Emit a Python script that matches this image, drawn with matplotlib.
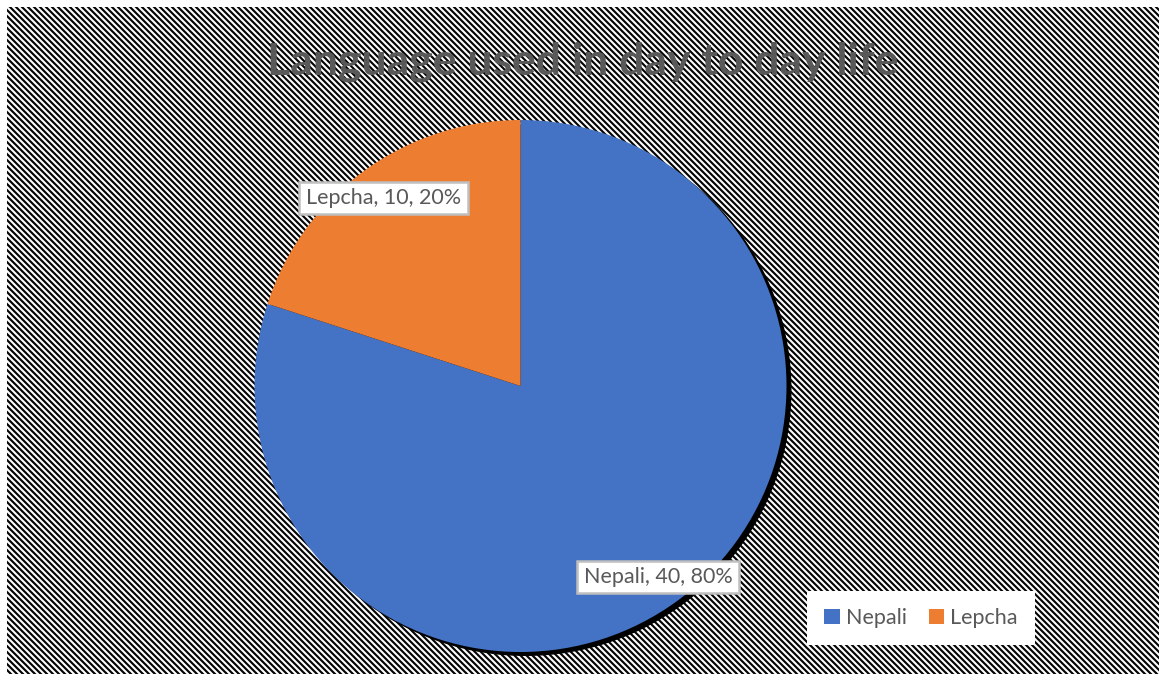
import numpy as np
import matplotlib
matplotlib.use("Agg")
import matplotlib.pyplot as plt

# Survey answers
languages = ["Nepali", "Lepcha"]
counts = [40, 10]
colors = ["#4472C4", "#ED7D31"]
title = "Language used in day to day life"

W, H = 1163, 678
plt.rcParams["font.family"] = ["Lato", "DejaVu Sans"]

fig = plt.figure(figsize=(W / 100, H / 100), dpi=100)
ax = fig.add_axes([0, 0, 1, 1])

# Wide downward-diagonal pattern fill for the chart area
rows, cols = np.mgrid[0:H, 0:W]
phase = 2 * np.pi * ((cols - rows) % 6) / 6.0
k = 1.6
v = 0.5 + 0.5 * np.tanh(k * np.cos(phase)) / np.tanh(k)
inside = (cols >= 7) & (cols <= 1158) & (rows >= 7) & (rows <= 673)
bg = np.where(inside, v, 1.0)
ax.imshow(bg, cmap="gray", vmin=0, vmax=1, extent=(0, W, 0, H),
          origin="upper", interpolation="nearest", zorder=0)

cx, cy, r = 520.5, H - 386, 266

# Drop shadow under the pie
ax.pie(counts, colors=["black"] * len(counts), startangle=90, counterclock=False,
       center=(cx + 5, cy - 4), radius=r, wedgeprops=dict(linewidth=0, zorder=1))
wedges, _ = ax.pie(counts, colors=colors, startangle=90, counterclock=False,
                   center=(cx, cy), radius=r,
                   wedgeprops=dict(linewidth=0, zorder=2))
for w in wedges:
    w.set_zorder(2)

total = sum(counts)
label_pos = {"Nepali": (658, H - 577), "Lepcha": (383.5, H - 198)}
for name, val in zip(languages, counts):
    pct = round(val / total * 100)
    x, y = label_pos[name]
    ax.text(x, y, f"{name}, {val}, {pct}%", ha="center", va="center",
            fontsize=15.5, color="#595959", zorder=5,
            bbox=dict(boxstyle="square,pad=0.3", fc="white", ec="#BFBFBF", lw=1.8))

ax.text(582.5, H - 62, title, ha="center", va="center", fontsize=32,
        fontweight="bold", color="#595959", zorder=5)

leg = ax.legend(wedges, languages, ncol=2, loc="center",
                bbox_to_anchor=(921 / W, 1 - 618 / H),
                frameon=True, fancybox=False, edgecolor="none", facecolor="white",
                framealpha=1, fontsize=15.5, labelcolor="#595959",
                handlelength=0.7, handleheight=0.7, handletextpad=0.3,
                columnspacing=1.0, borderpad=0.7, borderaxespad=0)
leg.get_frame().set_boxstyle("square", pad=0.1)
leg.set_zorder(6)

ax.set_xlim(0, W)
ax.set_ylim(0, H)
ax.set_aspect("auto")
ax.set_axis_off()
ax.set_position([0, 0, 1, 1])

fig.savefig("out.png", dpi=100)
